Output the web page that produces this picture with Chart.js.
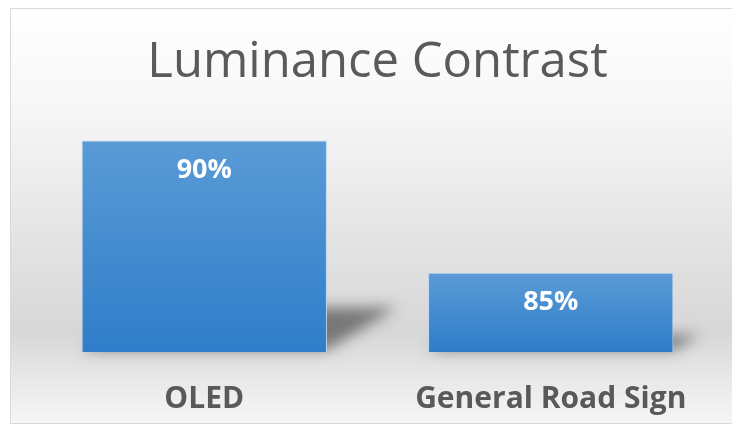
<!DOCTYPE html>
<html>
<head>
<meta charset="utf-8">
<script src="https://cdn.jsdelivr.net/npm/chart.js@4"></script>
<style>
  html, body { margin: 0; padding: 0; background: #ffffff; overflow: hidden; }
  #frame {
    position: absolute; left: 10px; top: 8px; width: 740px; height: 414px;
    border: 1px solid #d9d9d9;
    background: linear-gradient(to bottom, #ffffff 0%, #f6f6f6 25%, #e4e4e4 55%, #d7d7d7 78%, #e6e6e6 88%, #f6f6f6 100%);
  }
  #chart { position: absolute; left: 0; top: 0; }
</style>
</head>
<body>
<div id="frame"></div>
<canvas id="chart" width="732" height="426"></canvas>
<script>
// chart values
const categories = ['OLED', 'General Road Sign'];
const contrastValues = [90, 85];
const valueLabels = ['90%', '85%'];
const axisMin = 82;
const axisMax = 91.8;

// perspective shadow behind each bar (blurred canvas shadow of an offscreen shape)
const barShadow = {
    id: 'barShadow',
    beforeDatasetsDraw(chart) {
        const ctx = chart.ctx;
        const yScale = chart.scales.y;
        const base = yScale.getPixelForValue(axisMin);
        const off = 3000;
        chart.getDatasetMeta(0).data.forEach((bar, i) => {
            const top = yScale.getPixelForValue(contrastValues[i]);
            const left = bar.x - bar.width / 2;
            const right = bar.x + bar.width / 2;
            const h = base - top;
            const dx = h * 0.33;
            const dy = h * 0.21;
            ctx.save();
            ctx.shadowColor = 'rgba(40,40,40,0.55)';
            ctx.shadowBlur = 14;
            ctx.shadowOffsetX = off;
            ctx.fillStyle = '#000';
            ctx.beginPath();
            ctx.moveTo(left - off, base - 2);
            ctx.lineTo(right - off, base - 2);
            ctx.lineTo(right + dx - off, base - dy);
            ctx.lineTo(left + dx - off, base - dy);
            ctx.closePath();
            ctx.fill();
            ctx.restore();
        });
    }
};

// value labels inside the bar top
const valueText = {
    id: 'valueText',
    afterDatasetsDraw(chart) {
        const ctx = chart.ctx;
        ctx.save();
        ctx.font = 'bold 27px "Open Sans"';
        ctx.fillStyle = '#ffffff';
        ctx.textAlign = 'center';
        ctx.textBaseline = 'middle';
        chart.getDatasetMeta(0).data.forEach((bar, i) => {
            ctx.fillText(valueLabels[i], bar.x, bar.y + 30);
        });
        ctx.restore();
    }
};

function barFill(context) {
    const chart = context.chart;
    if (!chart.chartArea) return '#4a8fd2';
    const y = chart.scales.y;
    const top = y.getPixelForValue(context.raw);
    const bottom = y.getPixelForValue(axisMin);
    const g = chart.ctx.createLinearGradient(0, top, 0, bottom);
    g.addColorStop(0, '#5a9bd6');
    g.addColorStop(1, '#2f7dc9');
    return g;
}

new Chart(document.getElementById('chart'), {
    type: 'bar',
    data: {
        labels: categories,
        datasets: [{
            data: contrastValues,
            backgroundColor: barFill,
            borderColor: '#bcd8f0',
            borderWidth: 1,
            categoryPercentage: 1,
            barPercentage: 0.708
        }]
    },
    options: {
        responsive: false,
        devicePixelRatio: 1,
        animation: false,
        layout: { padding: { left: 31, right: 8, top: 0, bottom: -20 } },
        plugins: {
            legend: { display: false },
            tooltip: { enabled: false },
            title: {
                display: true,
                text: 'Luminance Contrast',
                color: '#5a5a5a',
                font: { family: '"Open Sans"', size: 49, weight: 'normal' },
                padding: { top: 34, bottom: 0 }
            }
        },
        scales: {
            x: {
                grid: { display: false, drawTicks: false },
                border: { display: false },
                ticks: {
                    color: '#595959',
                    font: { family: '"Open Sans"', size: 30, weight: 'bold' },
                    padding: 29,
                    maxRotation: 0,
                    minRotation: 0,
                    autoSkip: false
                }
            },
            y: {
                display: false,
                min: axisMin,
                max: axisMax
            }
        }
    },
    plugins: [barShadow, valueText]
});
</script>
</body>
</html>
